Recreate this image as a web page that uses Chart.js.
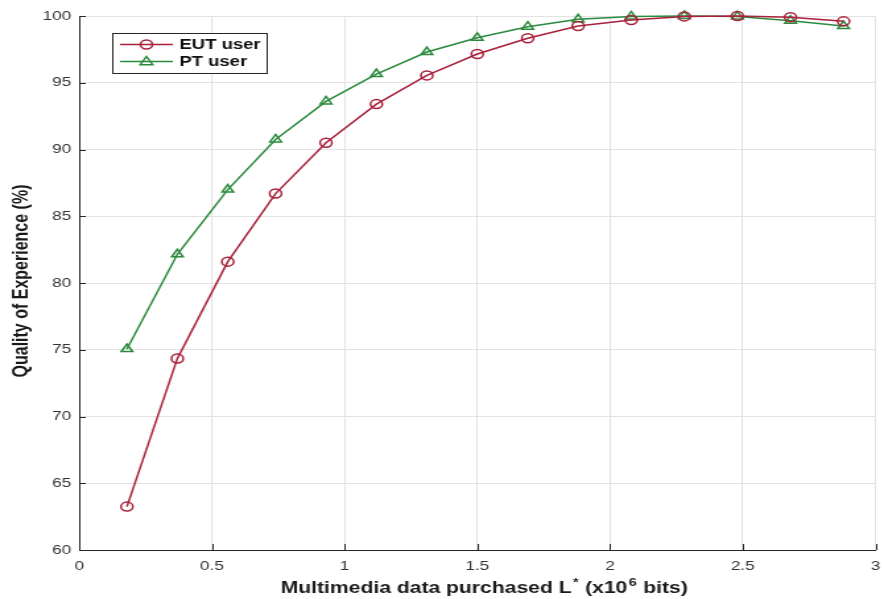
<!DOCTYPE html>
<html>
<head>
<meta charset="utf-8">
<script src="https://cdn.jsdelivr.net/npm/chart.js@4.4.1/dist/chart.umd.min.js"></script>
<style>
  body { margin: 0; background: #fff; overflow: hidden; }
  #wrap { width: 670px; height: 599px; transform: scaleX(1.3194); transform-origin: 0 0; }
</style>
</head>
<body>
<div id="wrap"><canvas id="mycanvas" width="670" height="599"></canvas></div>
<script>
// data purchased L* (x10^6 bits)
var dataL = [0.18, 0.37, 0.56, 0.74, 0.93, 1.12, 1.31, 1.50, 1.69, 1.88, 2.08, 2.28, 2.48, 2.68, 2.88];
// quality of experience (%)
var qoeEUT = [63.25, 74.35, 81.6, 86.7, 90.5, 93.4, 95.55, 97.15, 98.33, 99.25, 99.7, 99.97, 100, 99.9, 99.6];
var qoePT = [75.05, 82.15, 87.0, 90.75, 93.6, 95.65, 97.3, 98.37, 99.2, 99.75, 99.97, 100, 99.97, 99.65, 99.25];
var seriesNames = ["EUT user", "PT user"];
var xTicks = [0, 0.5, 1, 1.5, 2, 2.5, 3];
var yTicks = [60, 65, 70, 75, 80, 85, 90, 95, 100];

var red = "#a8203a";
var green = "#2b8a3e";
var tickFont = { family: "'Liberation Sans', Arial, sans-serif", size: 13 };

function points(ys) {
    var out = [];
    for (var i in dataL) {
        out.push({ x: dataL[i], y: ys[i] });
    }
    return out;
}

function marker(ctx, style, x, y, r) {
    ctx.beginPath();
    if (style == "triangle") {
        ctx.moveTo(x, y - r);
        ctx.lineTo(x + r * 0.95, y + r * 0.65);
        ctx.lineTo(x - r * 0.95, y + r * 0.65);
        ctx.closePath();
    } else {
        ctx.arc(x, y, r, 0, Math.PI * 2);
    }
    ctx.stroke();
}

var extras = {
    id: "extras",
    afterDraw: function(chart) {
        var ctx = chart.ctx;
        var area = chart.chartArea;
        var xs = chart.scales.x, ys = chart.scales.y;
        ctx.save();

        // inward tick marks
        ctx.strokeStyle = "#262626";
        ctx.lineWidth = 1;
        ctx.beginPath();
        yTicks.forEach(function(v) {
            var py = Math.round(ys.getPixelForValue(v)) + 0.5;
            ctx.moveTo(area.left, py);
            ctx.lineTo(area.left + 5, py);
        });
        xTicks.forEach(function(v) {
            var px = Math.round(xs.getPixelForValue(v)) + 0.5;
            ctx.moveTo(px, area.bottom);
            ctx.lineTo(px, area.bottom - 6);
        });
        ctx.stroke();

        // y axis title
        ctx.fillStyle = "#1a1a1a";
        ctx.font = "bold 16px 'Liberation Sans', Arial, sans-serif";
        ctx.textAlign = "center";
        ctx.textBaseline = "middle";
        ctx.save();
        ctx.translate(16.5, 281);
        ctx.rotate(-Math.PI / 2);
        ctx.fillText("Quality of Experience (%)", 0, 0);
        ctx.restore();

        // x axis title with superscripts
        var parts = [
            ["Multimedia data purchased L", false],
            ["*", true],
            [" (x10", false],
            ["6", true],
            [" bits)", false]
        ];
        var big = "bold 16px 'Liberation Sans', Arial, sans-serif";
        var small = "bold 11px 'Liberation Sans', Arial, sans-serif";
        var total = 0;
        parts.forEach(function(p) {
            ctx.font = p[1] ? small : big;
            total += ctx.measureText(p[0]).width + (p[1] ? 1.5 : 0);
        });
        var cx = 367 - total / 2;
        ctx.textAlign = "left";
        ctx.textBaseline = "alphabetic";
        parts.forEach(function(p) {
            ctx.font = p[1] ? small : big;
            if (p[1]) {
                ctx.fillText(p[0], cx + 1, 586);
                cx += ctx.measureText(p[0]).width + 1.5;
            } else {
                ctx.fillText(p[0], cx, 593);
                cx += ctx.measureText(p[0]).width;
            }
        });

        // legend box
        ctx.fillStyle = "#fff";
        ctx.fillRect(85, 33.5, 117.5, 40);
        ctx.strokeStyle = "#262626";
        ctx.strokeRect(85.5, 33.5, 117, 40);
        var rows = [
            { name: seriesNames[0], color: red, style: "circle", y: 44.5 },
            { name: seriesNames[1], color: green, style: "triangle", y: 61.5 }
        ];
        ctx.font = "bold 14px 'Liberation Sans', Arial, sans-serif";
        ctx.textBaseline = "middle";
        rows.forEach(function(r) {
            ctx.strokeStyle = r.color;
            ctx.lineWidth = 1.5;
            ctx.beginPath();
            ctx.moveTo(91, r.y);
            ctx.lineTo(131, r.y);
            ctx.stroke();
            marker(ctx, r.style, 111, r.y, r.style == "circle" ? 4.5 : 5);
            ctx.fillStyle = "#111";
            ctx.fillText(r.name, 136, r.y + 0.5);
        });
        ctx.restore();
    }
};

var chartdata = {
    datasets: [
        {
            label: seriesNames[0],
            data: points(qoeEUT),
            borderColor: red,
            backgroundColor: "rgba(0,0,0,0)",
            borderWidth: 1.5,
            pointStyle: "circle",
            pointRadius: 4.5,
            pointBorderWidth: 1.5,
            pointBorderColor: red,
            pointBackgroundColor: "rgba(0,0,0,0)",
            tension: 0,
            clip: false
        },
        {
            label: seriesNames[1],
            data: points(qoePT),
            borderColor: green,
            backgroundColor: "rgba(0,0,0,0)",
            borderWidth: 1.5,
            pointStyle: "triangle",
            pointRadius: 5,
            pointBorderWidth: 1.5,
            pointBorderColor: green,
            pointBackgroundColor: "rgba(0,0,0,0)",
            tension: 0,
            clip: false
        }
    ]
};

var ctx = document.getElementById("mycanvas");
var qoeChart = new Chart(ctx, {
    type: "line",
    data: chartdata,
    plugins: [extras],
    options: {
        responsive: false,
        animation: false,
        events: [],
        layout: { padding: { top: 16, right: 3, left: 0, bottom: 0 } },
        plugins: { legend: { display: false }, tooltip: { enabled: false } },
        scales: {
            x: {
                type: "linear",
                min: 0,
                max: 3,
                afterBuildTicks: function(scale) {
                    scale.ticks = xTicks.map(function(v) { return { value: v }; });
                },
                ticks: {
                    font: tickFont, color: "#333", padding: 9, maxRotation: 0,
                    callback: function(v) { return String(v); }
                },
                grid: { color: "#e2e2e2", drawTicks: false },
                border: { color: "#262626", width: 1 },
                afterFit: function(scale) {
                    scale.height = 49;
                    scale.paddingLeft = 0;
                    scale.paddingRight = 0;
                }
            },
            y: {
                type: "linear",
                min: 60,
                max: 100,
                afterBuildTicks: function(scale) {
                    scale.ticks = yTicks.map(function(v) { return { value: v }; });
                },
                ticks: {
                    font: tickFont, color: "#333", padding: 6,
                    callback: function(v) { return String(v); }
                },
                grid: { color: "#e2e2e2", drawTicks: false },
                border: { color: "#262626", width: 1 },
                afterFit: function(scale) {
                    scale.width = 60;
                    scale.paddingTop = 0;
                    scale.paddingBottom = 0;
                }
            }
        }
    }
});
</script>
</body>
</html>
